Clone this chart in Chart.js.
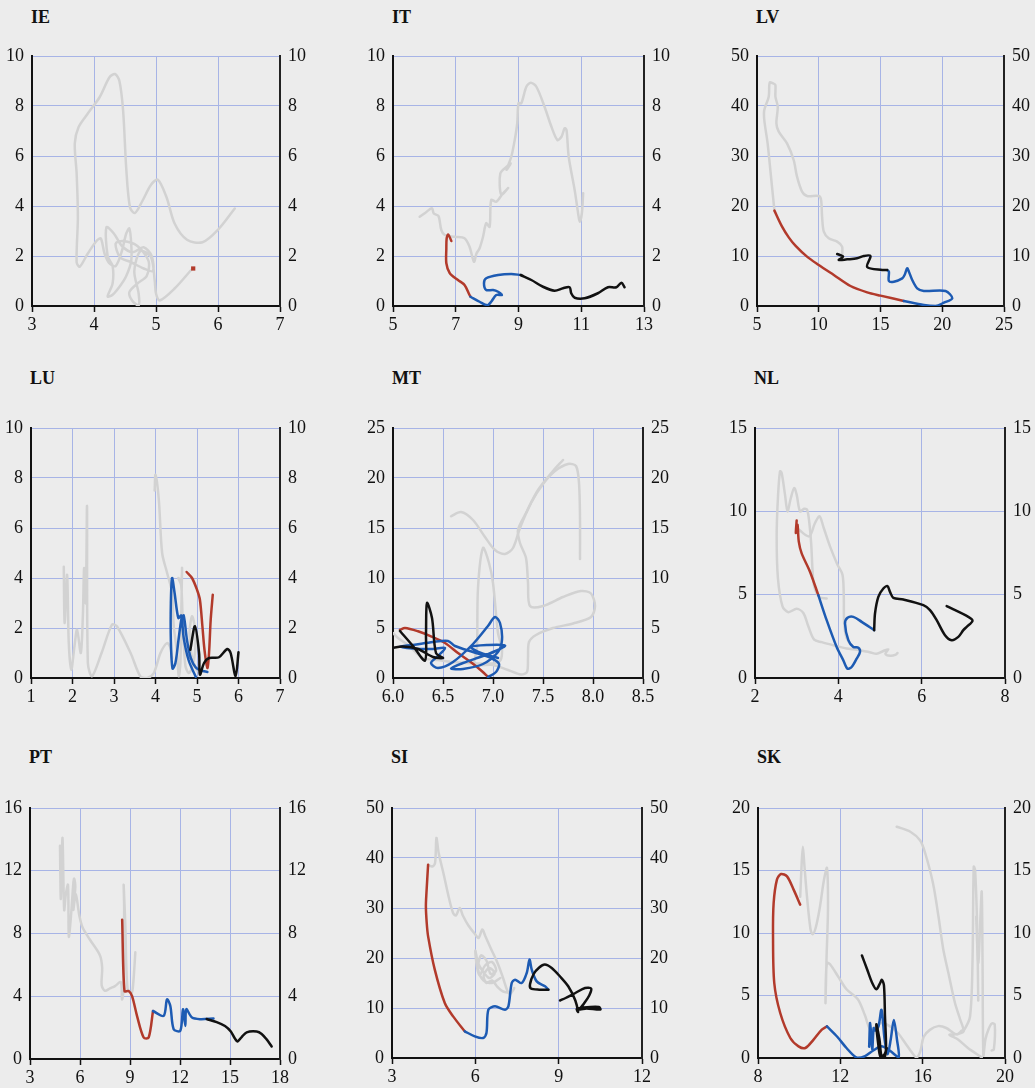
<!DOCTYPE html>
<html>
<head>
<meta charset="utf-8">
<script src="https://cdn.jsdelivr.net/npm/chart.js@4.4.1/dist/chart.umd.min.js"></script>
<style>
html, body { margin:0; padding:0; background:#ececec; width:1035px; height:1088px; overflow:hidden; }
.ttl { position:absolute; font:bold 18px "Liberation Serif", "Times New Roman", serif; color:#111; line-height:20px; }
canvas { position:absolute; }
</style>
</head>
<body>
<script>
// --- data, [x, y] pairs ---
const IE_GRAY = [[6.27,3.9],[6.0,3.05],[5.75,2.55],[5.5,2.65],[5.3,3.3],[5.17,4.35],[5.03,5.05],[4.92,4.85],[4.78,4.2],[4.66,3.72],[4.58,3.95],[4.52,5.5],[4.47,7.8],[4.41,9.0],[4.34,9.28],[4.25,9.15],[4.09,8.35],[3.9,7.7],[3.75,7.15],[3.69,6.5],[3.72,5.3],[3.74,3.55],[3.72,1.75],[3.77,1.57],[3.9,2.1],[4.04,2.6],[4.11,2.7],[4.17,2.1],[4.25,1.7],[4.35,1.6],[4.45,2.2],[4.52,2.9],[4.57,3.1],[4.6,2.5],[4.6,1.8],[4.52,1.2],[4.42,0.8],[4.3,0.45],[4.22,0.38],[4.3,0.9],[4.3,1.6],[4.22,2.0],[4.2,3.15],[4.32,2.9],[4.45,2.4],[4.62,2.15],[4.8,2.35],[4.93,2.0],[4.95,1.4],[4.8,1.5],[4.6,1.75],[4.42,1.95],[4.35,2.5],[4.47,2.6],[4.7,2.4],[4.88,1.8],[4.85,1.2],[4.7,0.9],[4.57,0.55],[4.62,0.2],[4.72,0.02],[4.72,0.5],[4.65,1.4],[4.75,2.2],[4.92,1.95],[4.98,1.0],[5.0,0.5],[5.06,0.22],[5.3,0.7],[5.57,1.45]];
const IE_RED = [[5.6,1.5]];

const IT_GRAY = [[5.85,3.57],[6.01,3.71],[6.24,3.91],[6.3,3.7],[6.45,3.6],[6.54,3.04],[6.65,2.84],[6.97,2.77],[7.28,2.71],[7.44,2.37],[7.58,1.77],[7.66,2.1],[7.76,2.31],[7.87,2.77],[7.97,3.31],[8.08,3.17],[8.13,4.24],[8.29,4.17],[8.5,4.5],[8.67,4.72],[8.45,4.45],[8.42,5.3],[8.65,5.6],[8.75,5.7],[8.62,5.45],[8.77,5.97],[8.88,6.64],[8.96,7.31],[9.0,8.11],[9.09,8.11],[9.25,8.77],[9.39,8.93],[9.57,8.77],[9.83,7.97],[10.05,7.17],[10.24,6.64],[10.37,6.77],[10.47,7.11],[10.53,7.04],[10.6,5.97],[10.79,4.64],[10.9,3.71],[10.95,3.37],[11.02,3.71],[11.06,4.51]];
const IT_RED = [[6.86,2.6],[6.76,2.86],[6.71,2.7],[6.7,2.3],[6.7,1.71],[6.81,1.31],[7.07,1.04],[7.28,0.84],[7.44,0.44],[7.47,0.37]];
const IT_BLUE = [[7.47,0.37],[7.76,0.17],[8.01,0.03],[8.13,0.17],[8.29,0.44],[8.47,0.44],[8.35,0.57],[8.19,0.64],[7.97,0.64],[7.9,0.91],[7.97,1.11],[8.35,1.24],[8.77,1.28],[9.07,1.24]];
const IT_BLACK = [[9.07,1.24],[9.41,1.04],[9.78,0.77],[10.15,0.61],[10.42,0.71],[10.63,0.75],[10.68,0.51],[10.79,0.33],[11.11,0.31],[11.53,0.51],[11.85,0.75],[12.12,0.75],[12.28,0.93],[12.38,0.75]];

const LV_GRAY = [[11.89,9.87],[11.89,11.87],[11.49,12.87],[10.81,13.53],[10.41,14.87],[10.27,17.87],[10.19,21.2],[10.0,22.0],[9.05,22.0],[8.65,22.87],[8.24,25.87],[7.97,29.2],[7.43,32.53],[6.76,34.87],[6.57,36.53],[6.68,39.87],[6.49,41.87],[6.49,44.2],[6.3,44.53],[6.03,44.67],[5.95,41.87],[5.59,39.2],[5.59,37.2],[5.86,32.53],[6.08,27.2],[6.41,19.07]];
const LV_RED = [[6.41,19.07],[7.03,15.87],[7.57,13.73],[8.11,12.07],[9.05,9.87],[10.0,8.2],[11.22,6.2],[12.57,4.0],[13.92,2.73],[15.0,2.07],[16.89,1.0]];
const LV_BLUE = [[16.89,1.0],[18.51,0.2],[19.46,0.0],[20.14,0.67],[20.81,1.53],[20.27,3.0],[18.51,3.0],[17.97,3.53],[17.57,5.2],[17.3,6.87],[17.16,7.53],[16.95,6.2],[16.76,5.53],[16.08,4.87],[15.68,5.0],[15.68,6.87],[15.54,7.2]];
const LV_BLACK = [[15.54,7.2],[15.14,7.2],[13.92,7.8],[14.19,10.0],[13.65,10.0],[13.1,9.53],[12.3,9.33],[11.62,9.2],[11.97,9.87],[11.49,10.4]];

const LU_GRAY_A = [[1.79,4.45],[1.81,2.2],[1.87,4.13],[1.91,1.4],[1.97,0.33],[2.05,1.3],[2.11,1.93],[2.2,1.0],[2.25,2.5],[2.28,4.4],[2.32,3.0],[2.35,6.87],[2.37,0.6],[2.47,0.07],[2.7,1.0],[2.95,2.13],[3.07,2.07],[3.4,1.0],[3.64,0.05],[3.8,0.0],[3.96,0.2],[4.12,1.0],[4.28,1.4],[4.36,1.2],[4.4,0.8]];
const LU_GRAY_B = [[3.98,7.5],[4.0,8.13],[4.08,7.13],[4.16,5.0],[4.28,4.2],[4.4,3.4],[4.44,2.07],[4.52,1.0],[4.56,0.07],[4.6,0.6],[4.62,2.5],[4.64,4.4],[4.62,3.9],[4.55,4.0],[4.62,3.7],[4.66,2.0],[4.72,0.5],[4.8,0.2],[4.88,0.4],[4.95,1.0],[4.96,1.9],[4.88,2.47],[4.82,1.8],[4.88,0.8],[5.0,0.3]];
const LU_RED = [[4.75,4.24],[4.88,4.0],[5.0,3.53],[5.07,3.13],[5.13,2.07],[5.18,1.13],[5.25,0.4],[5.29,1.0],[5.33,2.33],[5.38,3.33]];
const LU_BLUE = [[5.25,0.24],[5.1,0.3],[4.97,0.42],[4.85,0.8],[4.76,1.5],[4.68,2.5],[4.63,2.4],[4.56,1.6],[4.48,0.6],[4.41,0.38],[4.37,1.5],[4.37,3.0],[4.4,4.0],[4.46,3.4],[4.55,2.4],[4.62,2.5],[4.68,1.6],[4.8,0.7],[4.97,0.05]];
const LU_BLACK = [[4.84,1.13],[4.95,2.07],[5.05,1.0],[5.07,0.13],[5.17,0.6],[5.29,0.8],[5.53,0.83],[5.73,1.16],[5.81,1.0],[5.93,0.07],[6.0,1.03]];

const MT_GRAY_A = [[6.58,16.17],[6.68,16.6],[6.8,15.8],[6.92,14.1],[7.02,12.8],[7.12,12.4],[7.2,13.0],[7.27,15.0],[7.38,17.5],[7.5,19.4],[7.62,20.7],[7.75,21.4],[7.83,21.2],[7.86,19.5],[7.87,16],[7.87,11.9]];
const MT_GRAY_B = [[7.7,21.8],[7.6,20.7],[7.45,18.8],[7.33,16.5],[7.25,14.8],[7.27,13.5],[7.33,12.0],[7.35,9.5],[7.37,7.2],[7.5,7.2],[7.7,8.1],[7.88,8.7],[7.98,8.45],[8.02,7.2],[7.98,6.1],[7.8,5.45],[7.6,5.0],[7.43,4.3],[7.36,3.6],[7.35,2.0],[7.34,0.6],[7.28,0.35],[7.15,0.8],[7.0,1.3],[6.82,1.4],[6.84,3.0],[6.85,9.0],[6.9,13.0],[6.96,11.5],[7.0,9.5],[7.05,4.5],[7.09,2.8],[7.06,1.6],[6.9,1.45],[6.6,1.6],[6.45,1.8],[6.3,2.0],[6.15,3.3],[6.05,4.0],[6.0,4.5]];
const MT_RED = [[6.07,4.83],[6.12,5.0],[6.25,4.67],[6.38,4.17],[6.52,3.5],[6.65,2.5],[6.79,1.5],[6.89,0.67],[6.95,0.1]];
const MT_BLUE = [[6.95,0.1],[7.03,0.6],[7.06,1.4],[6.98,2.0],[6.8,2.6],[6.62,3.2],[6.55,3.7],[6.4,3.6],[6.2,3.3],[6.07,3.15],[6.2,2.95],[6.4,2.9],[6.52,3.0],[6.45,2.2],[6.38,1.5],[6.45,1.0],[6.6,1.6],[6.8,3.4],[6.95,5.2],[7.02,6.1],[7.07,5.5],[7.09,3.8],[7.05,2.6],[6.9,1.4],[6.7,0.9],[6.58,0.95],[6.7,1.5],[6.9,2.2],[7.05,2.8],[7.12,3.25],[6.95,3.3],[6.78,3.1],[6.88,2.5],[7.05,2.0]];
const MT_BLACK = [[6.07,4.7],[6.2,3.2],[6.32,1.75],[6.33,4.5],[6.34,7.5],[6.39,6.0],[6.43,2.5],[6.5,2.0],[6.4,2.1],[6.25,2.9],[6.1,3.15],[5.98,3.0]];

const NL_GRAY_A = [[3.72,4.77],[3.55,4.85],[3.42,5.5],[3.38,6.5],[3.35,8.0],[3.3,9.4],[3.25,10.1],[3.18,10.15],[3.08,10.0],[3.0,11.0],[2.94,11.4],[2.86,10.8],[2.78,10.0],[2.72,11.0],[2.64,12.3],[2.6,12.4],[2.55,10.8],[2.52,8.5],[2.55,6.0],[2.66,4.3],[2.8,3.95],[3.0,4.15],[3.16,3.9],[3.28,3.1],[3.42,2.3],[3.6,2.15],[3.9,1.95],[4.2,1.77],[4.45,1.7],[4.75,1.55],[4.92,1.45],[5.08,1.62],[5.2,1.72],[5.13,1.45],[5.25,1.33],[5.38,1.4],[5.42,1.5]];
const NL_GRAY_B = [[3.05,8.9],[3.3,8.5],[3.44,9.3],[3.55,9.7],[3.65,9.0],[3.8,7.9],[3.98,6.8],[4.1,6.2],[4.13,5.0],[4.14,3.3],[4.2,2.4],[4.36,1.85],[4.5,1.75]];
const NL_RED = [[3.0,9.45],[2.98,8.7],[3.02,9.2],[3.05,8.2],[3.12,7.48],[3.32,6.38],[3.52,4.97]];
const NL_BLUE = [[3.52,4.97],[3.72,3.47],[3.96,1.86],[4.12,1.06],[4.22,0.56],[4.32,0.66],[4.44,1.16],[4.52,1.56],[4.48,1.82],[4.36,1.86],[4.24,2.27],[4.16,3.27],[4.22,3.61],[4.36,3.67],[4.56,3.37],[4.86,2.87]];
const NL_BLACK = [[4.86,2.87],[4.88,3.87],[4.96,4.87],[5.08,5.37],[5.18,5.51],[5.24,5.17],[5.32,4.81],[5.56,4.71],[6.04,4.37],[6.2,4.07],[6.36,3.47],[6.56,2.57],[6.72,2.27],[6.88,2.47],[7.0,2.87],[7.08,3.07],[7.22,3.43],[7.12,3.67],[6.6,4.31]];

const PT_GRAY = [[4.8,13.6],[4.85,10.2],[4.95,14.1],[5.05,9.5],[5.15,10.5],[5.28,11.1],[5.33,7.8],[5.45,9.0],[5.6,11.2],[5.65,11.5],[5.72,11.0],[5.6,9.5],[5.75,10.5],[5.95,9.2],[6.15,8.4],[6.6,7.6],[7.2,6.6],[7.33,5.8],[7.3,4.7],[7.5,4.35],[7.8,4.5],[8.1,4.65],[8.45,4.9],[8.52,3.8],[8.6,4.3],[8.65,9.5],[8.62,11.1],[8.72,8.5],[8.85,4.5],[9.1,4.2],[9.2,4.9],[9.32,6.8]];
const PT_RED = [[8.53,8.88],[8.67,4.33],[8.92,4.33],[9.12,4.02],[9.42,2.75],[9.82,1.37],[10.12,1.37],[10.38,3.06]];
const PT_BLUE = [[10.38,3.06],[11.02,2.75],[11.22,3.8],[11.42,3.38],[11.62,1.9],[12.02,1.8],[12.18,3.17],[12.32,2.11],[12.38,3.17],[12.72,2.64],[13.22,2.54],[14.01,2.58]];
const PT_BLACK = [[13.6,2.55],[14.2,2.35],[14.7,2.1],[15.05,1.75],[15.3,1.3],[15.45,1.12],[15.7,1.4],[16.0,1.7],[16.6,1.75],[16.9,1.6],[17.2,1.25],[17.5,0.8]];

const SI_GRAY = [[4.3,38.6],[4.45,38.3],[4.55,39.0],[4.6,44.0],[4.68,41.0],[4.85,37.0],[5.05,32.0],[5.2,29.0],[5.3,28.5],[5.44,30.0],[5.55,28.5],[5.75,26.5],[6.0,24.7],[6.12,24.0],[6.25,25.7],[6.35,24.5],[6.55,22.0],[6.8,19.0],[7.0,16.0],[7.15,13.5],[7.25,12.8],[7.4,14.0],[7.3,13.2],[7.0,13.3],[6.8,14.2],[6.6,15.5],[6.4,15.0],[6.3,16.5],[6.5,18.0],[6.7,17.0],[6.5,16.0],[6.25,17.5],[6.1,19.0],[6.0,21.5],[6.05,18.5],[6.15,16.5],[6.35,18.5],[6.6,19.2],[6.75,17.5],[6.55,16.8],[6.4,19.5],[6.2,20.5],[6.1,17.7],[6.3,15.5],[6.6,15.0],[6.9,16.0]];
const SI_RED = [[4.3,38.67],[4.24,33.0],[4.22,30.33],[4.25,27.0],[4.3,24.33],[4.54,17.67],[4.9,11.0],[5.2,8.33],[5.62,5.33]];
const SI_BLUE = [[5.62,5.33],[5.98,4.33],[6.28,4.0],[6.4,5.0],[6.47,9.67],[6.71,10.33],[7.07,9.67],[7.19,10.33],[7.31,15.0],[7.43,15.67],[7.67,15.0],[7.85,17.0],[7.95,19.67],[8.03,17.67],[8.21,15.33],[8.51,14.33],[8.63,13.67]];
const SI_BLACK = [[8.63,13.67],[8.3,13.67],[8.0,13.9],[7.97,14.8],[8.1,16.8],[8.3,18.1],[8.5,18.7],[8.75,18.0],[9.05,16.3],[9.35,14.3],[9.6,11.5],[9.7,9.2],[9.65,9.8],[9.9,10.1],[10.45,10.2],[10.5,9.7],[10.0,9.9],[9.75,9.7],[9.9,10.8],[10.1,12.5],[10.17,13.9],[9.95,14.0],[9.6,13.0],[9.25,12.0],[9.05,11.5]];

const SK_GRAY_A = [[10.05,12.9],[10.12,15.5],[10.18,16.9],[10.25,15.5],[10.38,12.9],[10.55,10.3],[10.65,9.9],[10.8,10.4],[11.0,12.0],[11.2,14.2],[11.35,15.2],[11.4,12.0],[11.33,8.0],[11.28,4.4],[11.3,6.5],[11.36,7.6],[11.5,7.5],[11.9,6.5],[12.3,5.5],[12.85,4.7],[13.2,3.4],[13.45,2.3],[13.7,2.5],[14.0,2.8],[14.4,2.55],[14.8,2.0],[15.15,1.2],[15.45,0.5],[15.7,0.05],[15.88,0.5],[16.05,1.7],[16.35,2.25],[16.75,2.55],[17.15,2.4],[17.5,2.0],[17.7,1.9],[17.9,2.2],[18.0,2.2],[18.3,3.3],[18.42,7.6],[18.48,15.3],[18.55,15.0],[18.65,10.3],[18.7,4.6]];
const SK_GRAY_B = [[14.74,18.5],[15.4,18.1],[15.88,17.4],[16.12,16.4],[16.5,14.0],[16.77,11.3],[17.0,8.7],[17.25,6.8],[17.57,4.4],[17.82,3.1],[17.98,2.1],[17.6,1.9],[17.3,1.85],[17.7,1.5],[18.2,0.8],[18.87,0.05]];
const SK_GRAY_C = [[18.6,11.3],[18.7,7.6],[18.8,11.0],[18.87,13.3],[18.91,7.6],[18.95,0.2],[19.05,1.5],[19.2,2.3],[19.35,2.75],[19.5,2.7],[19.46,0.7],[19.35,0.6]];
const SK_RED = [[10.05,12.27],[9.73,13.47],[9.41,14.53],[9.12,14.72],[8.92,14.27],[8.76,12.4],[8.73,9.73],[8.79,6.0],[9.08,3.6],[9.57,1.6],[9.97,0.93],[10.3,0.8],[10.7,1.47],[11.1,2.27],[11.35,2.53]];
const SK_BLUE = [[11.35,2.53],[11.85,1.7],[12.3,0.8],[12.8,0.02],[13.2,0.15],[13.6,0.6],[14.0,0.95],[14.4,0.6],[14.83,0.05],[14.75,1.5],[14.6,3.05],[14.45,1.5],[14.3,0.3],[14.15,1.5],[14.0,3.85],[13.85,2.5],[13.7,2.2],[13.62,2.4],[13.55,0.7],[13.45,2.8],[13.4,0.9]];
const SK_BLACK = [[13.05,8.2],[13.3,7.1],[13.55,6.0],[13.75,5.5],[13.92,5.95],[14.02,6.25],[14.12,5.8],[14.17,3.3],[14.22,0.9],[14.15,0.05],[14.0,0.15],[13.9,1.5],[13.75,2.7],[13.85,1.0],[13.95,0.1],[14.15,0.3],[14.25,0.8]];

// panel placement (plot area in page pixels) and axis ranges
const panels = [
  {name:'IE', L:32,  R:280,  T:56,  B:306,  ty:17,  x:[3,7,1],     y:[0,10,2],  gray:[IE_GRAY], red:[IE_RED], blue:[], black:[], dot:true},
  {name:'IT', L:393, R:644,  T:56,  B:306,  ty:17,  x:[5,13,2],    y:[0,10,2],  gray:[IT_GRAY], red:[IT_RED], blue:[IT_BLUE], black:[IT_BLACK]},
  {name:'LV', L:757, R:1004, T:56,  B:306,  ty:17,  x:[5,25,5],    y:[0,50,10], gray:[LV_GRAY], red:[LV_RED], blue:[LV_BLUE], black:[LV_BLACK]},
  {name:'LU', L:31,  R:280,  T:428, B:678,  ty:378, x:[1,7,1],     y:[0,10,2],  gray:[LU_GRAY_A, LU_GRAY_B], red:[LU_RED], blue:[LU_BLUE], black:[LU_BLACK]},
  {name:'MT', L:393, R:643,  T:428, B:678,  ty:378, x:[6,8.5,0.5], y:[0,25,5],  gray:[MT_GRAY_A, MT_GRAY_B], red:[MT_RED], blue:[MT_BLUE], black:[MT_BLACK], dec:1},
  {name:'NL', L:755, R:1005, T:428, B:678,  ty:378, x:[2,8,2],     y:[0,15,5],  gray:[NL_GRAY_A, NL_GRAY_B], red:[NL_RED], blue:[NL_BLUE], black:[NL_BLACK]},
  {name:'PT', L:30,  R:280,  T:808, B:1059, ty:757, x:[3,18,3],    y:[0,16,4],  gray:[PT_GRAY], red:[PT_RED], blue:[PT_BLUE], black:[PT_BLACK]},
  {name:'SI', L:392, R:642,  T:808, B:1058, ty:757, x:[3,12,3],    y:[0,50,10], gray:[SI_GRAY], red:[SI_RED], blue:[SI_BLUE], black:[SI_BLACK]},
  {name:'SK', L:758, R:1005, T:808, B:1058, ty:757, x:[8,20,4],    y:[0,20,5],  gray:[SK_GRAY_A, SK_GRAY_B, SK_GRAY_C], red:[SK_RED], blue:[SK_BLUE], black:[SK_BLACK]}
];

const GRID = '#a7b4e6';
const COLORS = {gray:'#d2d2d2', red:'#b23a2b', blue:'#1d5bb3', black:'#111111'};
const FONT = {family:'"Liberation Serif", "Times New Roman", serif', size:18};
const PAD_TOP = 20, SIDE = 40, BOTTOM = 40;

const toPts = arr => arr.map(p => ({x:p[0], y:p[1]}));

panels.forEach(p => {
  const t = document.createElement('div');
  t.className = 'ttl';
  t.textContent = p.name;
  t.style.left = (p.L - 1) + 'px';
  t.style.top = (p.ty - 10) + 'px';
  document.body.appendChild(t);

  const cv = document.createElement('canvas');
  const w = p.R - p.L + SIDE * 2, h = p.B - p.T + PAD_TOP + BOTTOM;
  cv.width = w; cv.height = h;
  cv.style.width = w + 'px'; cv.style.height = h + 'px';
  cv.style.left = (p.L - SIDE) + 'px';
  cv.style.top = (p.T - PAD_TOP) + 'px';
  document.body.appendChild(cv);

  // drawn back to front: first dataset ends up on top
  let datasets = [];
  ['black','blue','red','gray'].forEach(k => {
    p[k].forEach(s => {
      if (p.dot && k === 'red') {
        datasets.push({data:toPts(s), showLine:false, pointStyle:'rect', pointRadius:3,
          backgroundColor:COLORS.red, borderColor:COLORS.red, borderWidth:0});
      } else {
        datasets.push({data:toPts(s), showLine:true, borderColor:COLORS[k], borderWidth:2.5,
          pointRadius:0, tension:0.3, fill:false, borderCapStyle:'round', borderJoinStyle:'round'});
      }
    });
  });

  const yTicks = {stepSize:p.y[2], font:FONT, color:'#111', padding:8};
  new Chart(cv, {
    type:'scatter',
    data:{datasets},
    options:{
      responsive:false, animation:false, events:[],
      layout:{padding:{top:PAD_TOP, left:0, right:0, bottom:0}},
      plugins:{legend:{display:false}, tooltip:{enabled:false}},
      scales:{
        x:{type:'linear', position:'bottom', min:p.x[0], max:p.x[1],
           afterFit:s => { s.height = BOTTOM; },
           ticks:{stepSize:p.x[2], font:FONT, color:'#111', padding:2, maxRotation:0, autoSkip:false,
                  callback:v => p.dec ? v.toFixed(p.dec) : v},
           grid:{color:GRID, lineWidth:1, tickLength:6, tickColor:'#111', tickWidth:1.5},
           border:{color:'#111', width:2}},
        y:{type:'linear', position:'left', min:p.y[0], max:p.y[1],
           afterFit:s => { s.width = SIDE; },
           ticks:yTicks,
           grid:{color:GRID, lineWidth:1, drawTicks:false},
           border:{color:'#111', width:2}},
        y2:{type:'linear', position:'right', min:p.y[0], max:p.y[1],
           afterFit:s => { s.width = SIDE; },
           ticks:yTicks,
           grid:{drawOnChartArea:false, drawTicks:false},
           border:{color:'#222', width:2}}
      }
    }
  });
});
</script>
</body>
</html>
